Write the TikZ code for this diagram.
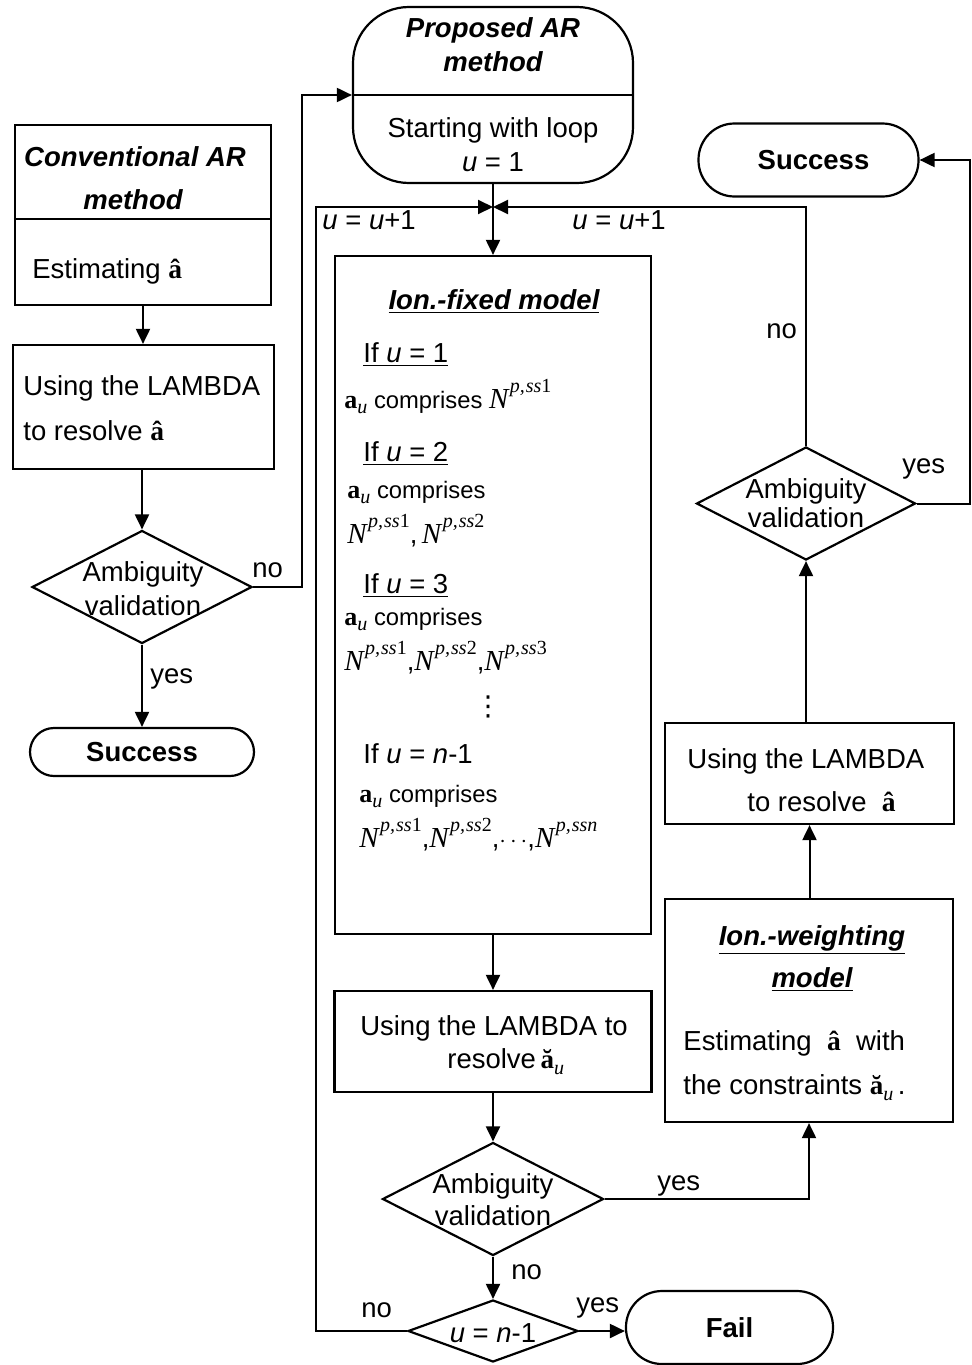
\documentclass[tikz,border=0pt]{standalone}
\usepackage{fontspec}
\setmainfont{Liberation Sans}
\newfontfamily\tms{Liberation Serif}
\newfontfamily\dvs{DejaVu Sans}
\usetikzlibrary{shapes.geometric,arrows.meta}
\newcommand\fs{\fontsize{13.75}{16}\selectfont}
\newcommand\fsm{\fontsize{11.9}{14}\selectfont}
\newcommand\ahat{{\tms\bfseries\upshape â}}
\newcommand\abr{{\tms\bfseries\upshape ă}}
\newcommand\sbu{\raisebox{-0.25em}{\fontsize{10}{10}\selectfont\tms\itshape u}}
\newcommand\au{{\fontsize{13}{14}\selectfont\tms\bfseries a}\sbu}
\newcommand\abu{{\fontsize{13.5}{14}\selectfont\abr}\sbu}
\newcommand\Np[1]{{\fontsize{14.5}{15}\selectfont\tms\itshape N\kern0.05em\raisebox{0.55em}{\fontsize{10}{10}\selectfont p,\kern0.05em ss#1}}}
\newcommand\BI[1]{{\bfseries\itshape #1}}
\tikzset{
  every node/.style={font=\fs},
  box/.style={draw, line width=1.1pt, rectangle, inner sep=0pt},
  term/.style={draw, line width=1.1pt, rectangle, inner sep=0pt, rounded corners=18pt, font=\fs\bfseries},
  dia/.style={draw, line width=1.1pt, diamond, inner sep=0pt},
  arr/.style={line width=1pt, -{Triangle[length=7.5pt,width=7pt]}},
  ln/.style={line width=1pt},
  txt/.style={inner sep=0pt, anchor=base},
  txl/.style={inner sep=0pt, anchor=base west},
}
\begin{document}
\begin{tikzpicture}[x=0.5pt,y=-0.5pt]
\useasboundingbox (0,0) rectangle (972,1365);

% ---------- left column ----------
\node[box, minimum width=128pt, minimum height=90pt] (conv) at (143,215) {};
\coordinate (cdiv) at (0,219);
\draw[line width=1.1pt] (conv.west |- cdiv) -- (conv.east |- cdiv);
\node[txt] (convT1) at (135,166) {\BI{Conventional AR}};
\node[txt] (convT2) at (133,209) {\BI{method}};
\node[txl] (convT3) at (32,278) {Estimating \ahat};

\node[box, minimum width=130.5pt, minimum height=62pt] (lam1) at (143.5,407) {};
\node[txl] (lam1T1) at (23,395) {Using the LAMBDA};
\node[txl] (lam1T2) at (23,440) {to resolve \ahat};

\node[dia, minimum width=110pt, minimum height=56.5pt] (dia1) at (142,587) {};
\node[txt] (dia1T1) at (143,581) {Ambiguity};
\node[txt] (dia1T2) at (143,615) {validation};

\node[term, minimum width=112pt, minimum height=24pt, rounded corners=12pt] (succ1) at (142,752) {Success};

\draw[arr] (conv.south) -- (conv.south |- lam1.north);
\draw[arr] (lam1.south -| dia1.north) -- (dia1.north);
\draw[arr] (dia1.south) -- (succ1.north);
\node[txl] (yes1) at (150,683) {yes};

% ---------- proposed ----------
\node[box, minimum width=140pt, minimum height=88pt, rounded corners=28pt] (prop) at (493,95) {};
\draw[line width=1.1pt] (prop.west) -- (prop.east);
\node[txt] (propT1) at (493,37) {\BI{Proposed AR}};
\node[txt] (propT2) at (493,71) {\BI{method}};
\node[txt] (propT3) at (493,137) {Starting with loop};
\node[txt] (propT4) at (493,171) {\textit{u} = 1};

\coordinate (noL) at (302,0);
\draw[arr] (dia1.east) -- (dia1.east -| noL) -- (noL |- prop.west) -- (prop.west);
\node[txl] (no1) at (252,577) {no};

% ---------- centre column ----------
\coordinate (J) at (493,207);
\node[box, minimum width=158pt, minimum height=339pt] (fixed) at (493,595) {};
\draw[arr] (prop.south) -- (fixed.north);

\node[txt] (fixT0) at (494,309) {\underline{\BI{Ion.-fixed model}}};
\node[txl] (fixT1) at (363,362) {\underline{If \textit{u} = 1}};
\node[txl] (fixT2) at (344,408) {\fsm\au\ comprises \Np{\upshape 1}};
\node[txl] (fixT3) at (363,461) {\underline{If \textit{u} = 2}};
\node[txl] (fixT4) at (347,498) {\fsm\au\ comprises};
\node[txl] (fixT5) at (347,543) {\Np{\upshape 1},\,\Np{\upshape 2}};
\node[txl] (fixT6) at (363,593) {\underline{If \textit{u} = 3}};
\node[txl] (fixT7) at (344,625) {\fsm\au\ comprises};
\node[txl] (fixT8) at (344,670) {\Np{\upshape 1},\Np{\upshape 2},\Np{\upshape 3}};
\node[txt] (fixT9) at (488,715) {\dvs ⋮};
\node[txl] (fixT10) at (363,763) {If \textit{u} = \textit{n}-1};
\node[txl] (fixT11) at (359,802) {\fsm\au\ comprises};
\node[txl] (fixT12) at (359,847) {\Np{\upshape 1},\Np{\upshape 2},{\fontsize{12}{12}\selectfont$\cdots$},\Np{n}};

\node[box, minimum width=158.5pt, minimum height=50.5pt] (lam2) at (493,1041.5) {};
\node[txt] (lam2T1) at (494,1035) {Using the LAMBDA to};
\node[txl] (lam2T2) at (447,1068) {resolve\,\abu};
\draw[arr] (fixed.south) -- (lam2.north);

\node[dia, minimum width=110.5pt, minimum height=56.5pt] (dia2) at (493,1199) {};
\node[txt] (dia2T1) at (493,1193) {Ambiguity};
\node[txt] (dia2T2) at (493,1225) {validation};
\draw[arr] (lam2.south) -- (dia2.north);

\node[dia, minimum width=85pt, minimum height=31pt] (dia3) at (493,1331) {};
\node[txt] (dia3T) at (493,1342) {\textit{u} = \textit{n}-1};
\draw[arr] (dia2.south) -- (dia3.north);
\node[txl] (no2) at (511,1279) {no};

\node[term, minimum width=103.5pt, minimum height=36.5pt] (fail) at (729.5,1327.5) {Fail};
\draw[arr] (dia3.east) -- (dia3.east -| fail.west);
\node[txl] (yes3) at (576,1312) {yes};

\coordinate (LL) at (316,0);
\draw[arr] (dia3.west) -- (dia3.west -| LL) -- (LL |- J) -- (J);
\node[txl] (no3) at (361,1317) {no};
\node[txl] (uu1) at (322,229) {\textit{u} = \textit{u}+1};

% ---------- right column ----------
\node[box, minimum width=144pt, minimum height=111.5pt] (weight) at (809,1010.5) {};
\node[txt] (wT1) at (812,945) {\underline{\BI{Ion.-weighting}}};
\node[txt] (wT2) at (812,987) {\underline{\BI{model}}};
\node[txl] (wT3) at (683,1050) {Estimating \ \ahat\ \ with};
\node[txl] (wT4) at (683,1094) {the constraints \abu\,.};
\draw[arr] (dia2.east) -- (dia2.east -| weight.south) -- (weight.south);
\node[txl] (yes2) at (657,1190) {yes};

\node[box, minimum width=144.5pt, minimum height=50.5pt] (lam3) at (809.5,773.5) {};
\node[txl] (lam3T1) at (687,768) {Using the LAMBDA};
\node[txl] (lam3T2) at (747,811) {to resolve \ \ahat};
\draw[arr] (weight.north -| lam3.south) -- (lam3.south);

\node[dia, minimum width=109.5pt, minimum height=56.5pt] (dia4) at (806,503.5) {};
\node[txt] (dia4T1) at (806,498) {Ambiguity};
\node[txt] (dia4T2) at (806,527) {validation};
\draw[arr] (lam3.north -| dia4.south) -- (dia4.south);

\node[term, minimum width=110pt, minimum height=36.5pt] (succ2) at (808.5,160) {\hspace*{5pt}Success};
\coordinate (RR) at (970,0);
\draw[arr] (dia4.east) -- (dia4.east -| RR) -- (RR |- succ2.east) -- (succ2.east);
\node[txl] (yes4) at (902,473) {yes};

\draw[arr] (dia4.north) -- (dia4.north |- J) -- (J);
\node[txl] (no4) at (766,338) {no};
\node[txl] (uu2) at (572,229) {\textit{u} = \textit{u}+1};
\end{tikzpicture}
\end{document}
